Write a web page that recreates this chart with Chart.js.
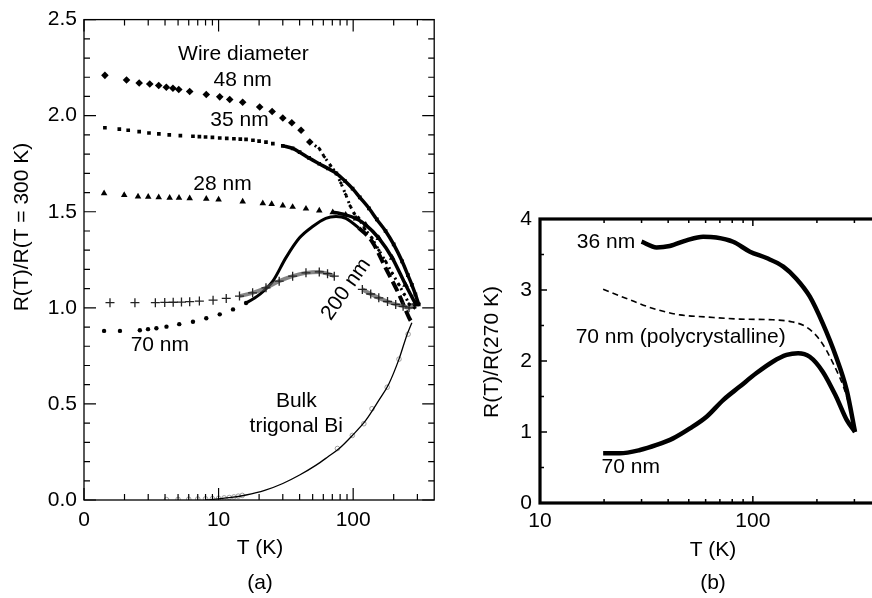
<!DOCTYPE html>
<html>
<head>
<meta charset="utf-8">
<script src="https://cdn.jsdelivr.net/npm/chart.js@4.4.0/dist/chart.umd.min.js"></script>
<style>
html, body { margin: 0; padding: 0; background: #fff; overflow: hidden; }
#wrapA { position: absolute; left: 0; top: 0; width: 440px; height: 598px; }
#wrapB { position: absolute; left: 440px; top: 0; width: 445px; height: 598px; }
</style>
</head>
<body>
<div id="wrapA"><canvas id="chartA" width="440" height="598"></canvas></div>
<div id="wrapB"><canvas id="chartB" width="445" height="598"></canvas></div>
<script>
// --- (a) R(T)/R(300 K) ---
const t48 = [1.43, 2.07, 2.57, 3.08, 3.59, 4.09, 4.58, 5.06, 6.1, 8.1, 10.2, 12.1, 15.1, 20.2, 25, 30, 35, 41, 47.6, 56, 61, 68, 75, 81, 88, 95, 102, 110, 122, 138, 155, 174, 195, 219, 240, 260, 285];
const r48 = [2.21, 2.186, 2.17, 2.165, 2.157, 2.148, 2.143, 2.136, 2.126, 2.11, 2.098, 2.084, 2.07, 2.045, 2.022, 1.988, 1.963, 1.924, 1.863, 1.829, 1.786, 1.74, 1.70, 1.65, 1.59, 1.53, 1.49, 1.467, 1.41, 1.363, 1.30, 1.242, 1.18, 1.12, 1.07, 1.02, 1.0];

const t35 = [1.43, 1.83, 2.13, 2.57, 3.04, 3.6, 4.3, 5.2, 6.45, 7.2, 8, 9, 10.2, 11.5, 13, 14.5, 16, 18, 20, 22.5, 25.3, 30, 35.5, 40, 47, 56, 65, 75, 87, 99, 112, 131, 150, 174, 200, 231, 255, 273, 290, 307];
const r35 = [1.937, 1.93, 1.924, 1.917, 1.91, 1.905, 1.9, 1.896, 1.893, 1.891, 1.889, 1.887, 1.884, 1.882, 1.88, 1.878, 1.877, 1.872, 1.868, 1.862, 1.855, 1.843, 1.83, 1.81, 1.78, 1.75, 1.725, 1.70, 1.66, 1.62, 1.575, 1.518, 1.46, 1.40, 1.33, 1.242, 1.17, 1.12, 1.07, 1.018];

const t28 = [1.41, 1.99, 2.52, 3.0, 3.59, 4.33, 5.08, 6.1, 8.1, 10, 15.1, 21.3, 24.8, 30, 35.5, 44.6, 56, 70.5, 88, 105, 124, 155, 195, 245, 292];
const r28 = [1.596, 1.587, 1.579, 1.578, 1.575, 1.573, 1.572, 1.57, 1.567, 1.563, 1.553, 1.544, 1.54, 1.532, 1.525, 1.516, 1.506, 1.497, 1.484, 1.465, 1.432, 1.363, 1.26, 1.12, 1.018];

const t200 = [1.56, 2.39, 3.39, 3.98, 4.6, 5.3, 6.1, 7.2, 9.1, 11.4, 14.3, 17.9, 22.5, 28.2, 35.5, 44.6, 56, 64.5, 72.4, 117, 135, 155, 180, 207, 235, 260, 292];
const r200 = [1.027, 1.027, 1.027, 1.028, 1.029, 1.03, 1.032, 1.035, 1.04, 1.049, 1.061, 1.078, 1.104, 1.139, 1.165, 1.182, 1.187, 1.178, 1.165, 1.096, 1.072, 1.052, 1.033, 1.018, 1.008, 1.0, 1.02];

const t70 = [1.41, 1.85, 2.6, 2.99, 3.45, 4.1, 5.1, 6.45, 8.1, 10.2, 12.8, 16, 20.2, 25.3, 31.6, 39.8, 50, 62.6, 74.6, 88.2, 110, 138, 174, 219, 260, 273];
const r70 = [0.88, 0.88, 0.883, 0.889, 0.894, 0.902, 0.915, 0.928, 0.946, 0.966, 0.992, 1.025, 1.07, 1.139, 1.26, 1.363, 1.423, 1.466, 1.475, 1.466, 1.415, 1.346, 1.208, 1.07, 0.949, 0.923];

const tBulk = [8, 12, 16, 22, 30, 40, 52.7, 65, 78.7, 98.6, 124, 155, 184, 219, 252, 273];
const rBulk = [0, 0.012, 0.026, 0.05, 0.086, 0.13, 0.18, 0.225, 0.268, 0.336, 0.414, 0.518, 0.604, 0.733, 0.863, 0.923];
const tBulkPts = [4.1, 5, 6, 7, 8, 9, 10, 11, 12, 13, 14, 15, 76.4, 98.6, 120, 138, 179, 219, 256];
const rBulkPts = [0.002, 0.003, 0.004, 0.005, 0.006, 0.007, 0.009, 0.011, 0.013, 0.016, 0.02, 0.024, 0.268, 0.336, 0.397, 0.475, 0.587, 0.733, 0.863];

// --- (b) R(T)/R(270 K) ---
const t36 = [30, 35.3, 40.7, 48.8, 58.4, 67.3, 80.7, 96.9, 116, 139, 160, 185, 213, 246, 276, 302];
const r36 = [3.68, 3.60, 3.62, 3.70, 3.75, 3.74, 3.68, 3.54, 3.45, 3.33, 3.16, 2.91, 2.53, 2.06, 1.59, 1.0];
const tPoly = [19.8, 25.5, 34, 45.4, 60.6, 86.8, 124, 154, 178, 206, 238, 276, 302];
const rPoly = [3.01, 2.88, 2.74, 2.65, 2.62, 2.59, 2.58, 2.55, 2.48, 2.30, 1.97, 1.50, 1.0];
const t70b = [19.8, 23.7, 29.5, 35.3, 42.2, 50.6, 60.6, 72.5, 86.8, 104, 124, 144, 163, 185, 213, 246, 276, 302];
const r70b = [0.70, 0.70, 0.746, 0.817, 0.91, 1.05, 1.215, 1.45, 1.64, 1.83, 1.99, 2.085, 2.11, 2.06, 1.85, 1.50, 1.17, 1.0];

// ticks
const xMajorA = [1, 10, 100];
const xMinorA = [2, 3, 4, 5, 6, 7, 8, 9, 20, 30, 40, 50, 60, 70, 80, 90, 200, 300];
const yMajorA = [0, 0.5, 1, 1.5, 2, 2.5];
const yMinorA = [0.1, 0.2, 0.3, 0.4, 0.6, 0.7, 0.8, 0.9, 1.1, 1.2, 1.3, 1.4, 1.6, 1.7, 1.8, 1.9, 2.1, 2.2, 2.3, 2.4];
const xMajorB = [10, 100];
const xMinorB = [20, 30, 40, 50, 60, 70, 80, 90, 200, 300];
const yMajorB = [0, 1, 2, 3, 4];
const yMinorB = [0.5, 1.5, 2.5, 3.5];

// テキスト注記 (データ座標)
const notesA = [
    { text: 'Wire diameter', t: 15.3, v: 2.32 },
    { text: '48 nm', t: 15.1, v: 2.184 },
    { text: '35 nm', t: 14.3, v: 1.977 },
    { text: '28 nm', t: 10.7, v: 1.646 },
    { text: '70 nm', t: 3.66, v: 0.807 },
    { text: 'Bulk', t: 37.8, v: 0.512 },
    { text: 'trigonal Bi', t: 37.8, v: 0.383 },
    { text: '200 nm', t: 88.6, v: 1.097, rot: -55 }
];
const notesB = [
    { text: '36 nm', t: 28, v: 3.67, align: 'right' },
    { text: '70 nm (polycrystalline)', t: 45.8, v: 2.34 },
    { text: '70 nm', t: 26.7, v: 0.50 }
];

const FONT = "'Liberation Sans', Arial, sans-serif";
const font21 = { family: FONT, size: 21 };

function pts(ts, rs) { return ts.map((t, i) => ({ x: t, y: rs[i] })); }

// 枠と内向き目盛り
const frameTicks = {
    id: 'frameTicks',
    afterDraw(chart, args, o) {
        const { ctx, chartArea: a, scales: { x, y } } = chart;
        ctx.save();
        ctx.strokeStyle = '#000';
        ctx.lineWidth = o.lw;
        ctx.strokeRect(a.left, a.top, a.right - a.left, a.bottom - a.top);
        ctx.lineWidth = o.tw;
        ctx.beginPath();
        const xt = (vals, len) => vals.forEach(v => {
            const p = x.getPixelForValue(v);
            ctx.moveTo(p, a.bottom); ctx.lineTo(p, a.bottom - len);
            ctx.moveTo(p, a.top); ctx.lineTo(p, a.top + len);
        });
        const yt = (vals, len) => vals.forEach(v => {
            const p = y.getPixelForValue(v);
            ctx.moveTo(a.left, p); ctx.lineTo(a.left + len, p);
            ctx.moveTo(a.right, p); ctx.lineTo(a.right - len, p);
        });
        xt(o.xMajor, o.major); xt(o.xMinor, o.minor);
        yt(o.yMajor, o.major); yt(o.yMinor, o.minor);
        ctx.stroke();
        ctx.restore();
    }
};

// 注記とタイトル
const texts = {
    id: 'texts',
    afterDraw(chart, args, o) {
        const { ctx, scales: { x, y } } = chart;
        ctx.save();
        ctx.fillStyle = '#000';
        ctx.font = '21px ' + FONT;
        ctx.textBaseline = 'middle';
        const put = (s, px, py, rot, align) => {
            ctx.save();
            ctx.translate(px, py);
            if (rot) ctx.rotate(rot * Math.PI / 180);
            ctx.textAlign = align || 'center';
            ctx.fillText(s, 0, 0);
            ctx.restore();
        };
        o.notes.forEach(n => put(n.text, x.getPixelForValue(n.t), y.getPixelForValue(n.v), n.rot, n.align));
        o.titles.forEach(n => put(n.text, n.x, n.y, n.rot));
        ctx.restore();
    }
};

const hide = 'rgba(0,0,0,0)';

function scalesFor(xmin, xmax, xMaj, xLbl, ymax, yStep, yLbl, yW, xH, padY, padX) {
    return {
        x: {
            type: 'logarithmic', min: xmin, max: xmax,
            afterBuildTicks: s => { s.ticks = xMaj.map(v => ({ value: v })); },
            ticks: { callback: xLbl, font: font21, color: '#000', padding: padX, maxRotation: 0, autoSkip: false },
            grid: { display: false, drawTicks: false },
            border: { display: false },
            afterFit: s => { s.height = xH; }
        },
        y: {
            min: 0, max: ymax,
            ticks: { stepSize: yStep, callback: yLbl, font: font21, color: '#000', padding: padY },
            grid: { display: false, drawTicks: false },
            border: { display: false },
            afterFit: s => { s.width = yW; }
        }
    };
}

new Chart(document.getElementById('chartA'), {
    type: 'scatter',
    data: {
        datasets: [
            {
                label: '48 nm', data: pts(t48, r48), showLine: true,
                pointStyle: 'rectRot', pointRadius: c => (c.raw && c.raw.x < 50 ? 3.8 : 2),
                backgroundColor: '#000', borderColor: '#000', pointBorderWidth: 0,
                borderWidth: 3, borderDash: [2, 4],
                segment: { borderColor: c => (c.p0.parsed.x >= 47 ? '#000' : hide) }
            },
            {
                label: '35 nm', data: pts(t35, r35), showLine: true, cubicInterpolationMode: 'monotone',
                pointStyle: 'rect', pointRadius: 2.6,
                backgroundColor: '#000', borderColor: '#000', pointBorderWidth: 0, borderWidth: 3.5,
                segment: { borderColor: c => (c.p0.parsed.x >= 30 ? '#000' : hide) }
            },
            {
                label: '28 nm', data: pts(t28, r28), showLine: true, cubicInterpolationMode: 'monotone',
                pointStyle: 'triangle', pointRadius: 3.8,
                backgroundColor: '#000', borderColor: '#000', pointBorderWidth: 0, borderWidth: 3.5,
                segment: { borderColor: c => (c.p0.parsed.x >= 60 ? '#000' : hide) }
            },
            {
                label: '200 nm', data: pts(t200, r200), showLine: true, cubicInterpolationMode: 'monotone',
                pointStyle: 'cross', pointRadius: 4.5, pointBorderWidth: 1.3,
                pointBorderColor: '#222', borderColor: '#666', borderWidth: 4,
                segment: { borderColor: c => (c.p0.parsed.x >= 12 && c.p1.parsed.x / c.p0.parsed.x < 1.4 ? 'rgba(80,80,80,0.7)' : hide) }
            },
            {
                label: '70 nm', data: pts(t70, r70), showLine: true, cubicInterpolationMode: 'monotone',
                pointStyle: 'circle', pointRadius: c => (c.raw && c.raw.x < 20 ? 2.2 : 0),
                backgroundColor: '#000', borderColor: '#000', pointBorderWidth: 0, borderWidth: 3,
                segment: {
                    borderColor: c => (c.p0.parsed.x >= 16 ? '#000' : hide),
                    borderDash: c => (c.p0.parsed.x >= 110 ? [11, 5] : undefined),
                    borderWidth: c => (c.p0.parsed.x >= 110 ? 4 : 3)
                }
            },
            {
                label: 'Bulk', data: pts(tBulk, rBulk), showLine: true, cubicInterpolationMode: 'monotone',
                pointRadius: 0, borderColor: '#000', borderWidth: 1.3
            },
            {
                label: 'Bulk data', data: pts(tBulkPts, rBulkPts),
                pointStyle: 'circle', pointRadius: 2.3, pointBorderWidth: 0.8,
                pointBorderColor: '#888', backgroundColor: 'rgba(255,255,255,0)'
            }
        ]
    },
    options: {
        responsive: false, animation: false, devicePixelRatio: 1,
        layout: { padding: { left: 0, right: 4, top: 17, bottom: 0 } },
        plugins: {
            legend: { display: false }, tooltip: { enabled: false },
            frameTicks: { lw: 1.3, tw: 1.2, major: 12, minor: 6, xMajor: xMajorA, xMinor: xMinorA, yMajor: yMajorA, yMinor: yMinorA },
            texts: {
                notes: notesA,
                titles: [
                    { text: 'R(T)/R(T = 300 K)', x: 22, y: 227, rot: -90 },
                    { text: 'T (K)', x: 260, y: 548 },
                    { text: '(a)', x: 260, y: 583 }
                ]
            }
        },
        scales: scalesFor(1, 400, xMajorA, v => (v === 1 ? '0' : String(v)), 2.5, 0.5, v => v.toFixed(1), 84, 98, 7, 8)
    },
    plugins: [frameTicks, texts]
});

new Chart(document.getElementById('chartB'), {
    type: 'scatter',
    data: {
        datasets: [
            {
                label: '36 nm', data: pts(t36, r36), showLine: true, cubicInterpolationMode: 'monotone',
                pointRadius: 0, borderColor: '#000', borderWidth: 4.5
            },
            {
                label: '70 nm (polycrystalline)', data: pts(tPoly, rPoly), showLine: true, cubicInterpolationMode: 'monotone',
                pointRadius: 0, borderColor: '#000', borderWidth: 1.6, borderDash: [6, 4]
            },
            {
                label: '70 nm', data: pts(t70b, r70b), showLine: true, cubicInterpolationMode: 'monotone',
                pointRadius: 0, borderColor: '#000', borderWidth: 4.5
            }
        ]
    },
    options: {
        responsive: false, animation: false, devicePixelRatio: 1,
        layout: { padding: { left: 0, right: 4, top: 219, bottom: 0 } },
        plugins: {
            legend: { display: false }, tooltip: { enabled: false },
            frameTicks: { lw: 3.2, tw: 1.5, major: 7, minor: 4, xMajor: xMajorB, xMinor: xMinorB, yMajor: yMajorB, yMinor: yMinorB },
            texts: {
                notes: notesB,
                titles: [
                    { text: 'R(T)/R(270 K)', x: 52, y: 352, rot: -90 },
                    { text: 'T (K)', x: 273, y: 550 },
                    { text: '(b)', x: 273, y: 583 }
                ]
            }
        },
        scales: scalesFor(10, 400, xMajorB, v => String(v), 4, 1, v => String(v), 100, 95, 8, 6)
    },
    plugins: [frameTicks, texts]
});
</script>
</body>
</html>
